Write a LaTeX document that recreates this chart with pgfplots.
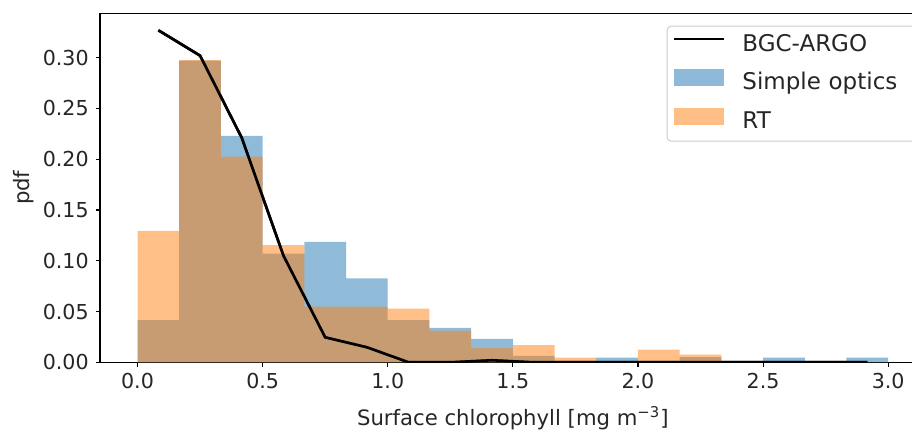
\documentclass[border=0pt]{standalone}
\usepackage{fontspec}
\setmainfont{DejaVu Sans}
\usepackage{pgfplots}
\pgfplotsset{compat=1.18}
\definecolor{tabblue}{HTML}{1F77B4}
\definecolor{taborange}{HTML}{FF7F0E}
\definecolor{txt}{HTML}{262626}

\begin{document}
\begin{tikzpicture}
\begin{axis}[
  name=ax,
  scale only axis,
  width=412.85pt, height=174.5pt,
  xmin=-0.15, xmax=3.15, ymin=0, ymax=0.3437,
  axis line style={line width=0.55pt},
  tick align=outside, tick pos=left,
  major tick length=2.15pt,
  every tick/.style={line width=0.55pt, black},
  xtick={0,0.5,1,1.5,2,2.5,3},
  ytick={0,0.05,0.1,0.15,0.2,0.25,0.3},
  scaled ticks=false,
  /pgf/number format/assume math mode=true,
  xticklabel style={/pgf/number format/.cd, fixed, fixed zerofill, precision=1},
  yticklabel style={/pgf/number format/.cd, fixed, fixed zerofill, precision=2},
  ticklabel style={font=\fontsize{10.3}{12}\selectfont, text=txt},
  xlabel={Surface chlorophyll [mg m\textsuperscript{−3}]},
  ylabel={pdf},
  label style={font=\fontsize{10.6}{12}\selectfont, text=txt},
  xlabel style={at={(axis description cs:0.5,0)}, anchor=base, yshift=-31.7pt},
  ylabel style={at={(axis description cs:0,0.5)}, anchor=base, yshift=35pt},
  legend cell align=left,
  legend style={
    at={(0.6863,0.9645)}, anchor=north west,
    draw=black!20, line width=0.5pt, rounded corners=2pt,
    fill=white, fill opacity=0.8, text opacity=1,
    font=\fontsize{11.5}{13}\selectfont, text=txt,
    inner xsep=3pt, inner ysep=4pt, row sep=6.5pt,
    nodes={inner sep=0pt, text height=8.5pt, text depth=2.5pt},
    /tikz/column 2/.append style={text width=86pt},
  },
]

% BGC-ARGO reference curve (drawn first so it leads the legend)
\addplot[black, line width=1.3pt,
  legend image code/.code={
    \draw[sharp corners, black, line width=1.3pt] (0pt,3pt) -- (25pt,3pt);
    \path[draw=none, fill=none] (0pt,0pt) -- (34pt,0pt);}]
  coordinates {
  (0.0833,0.327) (0.25,0.302) (0.4167,0.221) (0.5833,0.105) (0.75,0.0246)
  (0.9167,0.0148) (1.0833,0) (1.25,0) (1.4167,0.002) (1.5833,0) (1.75,0)
  (1.9167,0) (2.0833,0) (2.25,0) (2.4167,0) (2.5833,0) (2.75,0) (2.9167,0)
  };
\addlegendentry{BGC-ARGO}

% Simple optics histogram
\addplot[const plot, draw=none, fill=tabblue, fill opacity=0.5,
  legend image code/.code={
    \fill[sharp corners, tabblue, fill opacity=0.5] (0pt,-1.25pt) rectangle (25pt,7.25pt);
    \path[draw=none, fill=none] (0pt,0pt) -- (34pt,0pt);}]
  coordinates {
  (0,0.0416) (0.1667,0.297) (0.3333,0.223) (0.5,0.107) (0.6667,0.1187)
  (0.8333,0.0826) (1,0.0416) (1.1667,0.0338) (1.3333,0.0230) (1.5,0.0062)
  (1.6667,0) (1.8333,0.0046) (2,0) (2.1667,0.0050) (2.3333,0) (2.5,0.0046)
  (2.6667,0) (2.8333,0.0046) (3,0.0046)
  } \closedcycle;
\addlegendentry{Simple optics}

% RT histogram
\addplot[const plot, draw=none, fill=taborange, fill opacity=0.5,
  legend image code/.code={
    \fill[sharp corners, taborange, fill opacity=0.5] (0pt,-1.25pt) rectangle (25pt,7.25pt);
    \path[draw=none, fill=none] (0pt,0pt) -- (34pt,0pt);}]
  coordinates {
  (0,0.1295) (0.1667,0.2977) (0.3333,0.2026) (0.5,0.1154) (0.6667,0.0548)
  (0.8333,0.0548) (1,0.0528) (1.1667,0.0311) (1.3333,0.0141) (1.5,0.017)
  (1.6667,0.0046) (1.8333,0) (2,0.0125) (2.1667,0.0075) (2.3333,0) (2.5,0)
  (2.6667,0) (2.8333,0) (3,0)
  } \closedcycle;
\addlegendentry{RT}

% curve again on top of the bars
\addplot[black, line width=1.3pt, forget plot]
  coordinates {
  (0.0833,0.327) (0.25,0.302) (0.4167,0.221) (0.5833,0.105) (0.75,0.0246)
  (0.9167,0.0148) (1.0833,0) (1.25,0) (1.4167,0.002) (1.5833,0) (1.75,0)
  (1.9167,0) (2.0833,0) (2.25,0) (2.4167,0) (2.5833,0) (2.75,0) (2.9167,0)
  };
\end{axis}
\pgfresetboundingbox
\path[use as bounding box] ([shift={(-50pt,-35.5pt)}]ax.south west) rectangle ([shift={(406pt,181.15pt)}]ax.south west);
\end{tikzpicture}
\end{document}
